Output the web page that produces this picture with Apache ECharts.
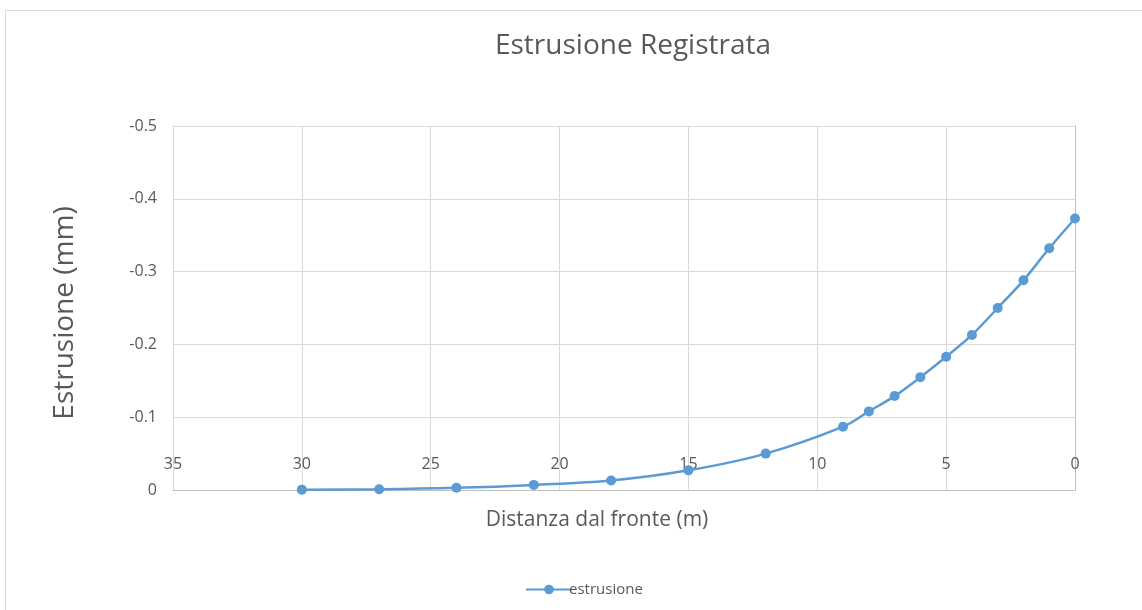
<!DOCTYPE html>
<html>
<head>
<meta charset="utf-8">
<script src="https://cdn.jsdelivr.net/npm/echarts@6/dist/echarts.min.js"></script>
<style>
html,body{margin:0;padding:0;background:#fff;}
#chart{width:1142px;height:610px;}
</style>
</head>
<body>
<div id="chart"></div>
<script>
const titleText = 'Estrusione Registrata';
const xName = 'Distanza dal fronte (m)';
const yName = 'Estrusione (mm)';
const seriesName = 'estrusione';
const distanza = [30, 27, 24, 21, 18, 15, 12, 9, 8, 7, 6, 5, 4, 3, 2, 1, 0];
const estrusione = [-0.0005, -0.001, -0.003, -0.007, -0.013, -0.027, -0.050, -0.087, -0.108, -0.129, -0.155, -0.183, -0.213, -0.250, -0.288, -0.332, -0.373];

const chart = echarts.init(document.getElementById('chart'), null, {renderer: 'canvas'});
const FONT = '"Open Sans", "Noto Sans", sans-serif';
const TXT = '#595959';
chart.setOption({
  animation: false,
  backgroundColor: '#ffffff',
  graphic: [{
    type: 'rect', left: 3, top: 8, z: -1,
    shape: {width: 1200, height: 700},
    style: {fill: 'none', stroke: '#d9d9d9', lineWidth: 1}
  }],
  title: {
    text: titleText, left: 628, top: 27, textAlign: 'center',
    textStyle: {fontFamily: FONT, fontSize: 28, fontWeight: 'normal', color: TXT}
  },
  legend: {
    data: [seriesName], left: 520, top: 577, itemWidth: 46, itemHeight: 12, itemGap: 10,
    textStyle: {fontFamily: FONT, fontSize: 15, color: TXT, padding: [0, 0, 0, -8]}
  },
  grid: {left: 173, right: 67, top: 126, bottom: 120},
  xAxis: {
    type: 'value', min: 0, max: 35, interval: 5, inverse: true,
    name: xName, nameLocation: 'middle', nameGap: 20,
    nameTextStyle: {fontFamily: FONT, fontSize: 21, color: TXT, padding: [0, 54, 0, 0]},
    axisLine: {show: true, onZero: false, lineStyle: {color: '#bfbfbf', width: 1}},
    axisTick: {show: false},
    axisLabel: {inside: true, margin: 18, fontFamily: FONT, fontSize: 16, color: TXT, showMinLabel: true, showMaxLabel: true},
    splitLine: {show: true, lineStyle: {color: '#d9d9d9', width: 1}}
  },
  yAxis: [{
    type: 'value', min: -0.5, max: 0, interval: 0.1, inverse: true, position: 'left',
    name: yName, nameLocation: 'middle', nameGap: 94, nameRotate: 90,
    nameTextStyle: {fontFamily: FONT, fontSize: 28, color: TXT, padding: [0, 10, 0, 0]},
    axisLine: {show: false},
    axisTick: {show: false},
    axisLabel: {margin: 16, fontFamily: FONT, fontSize: 16, color: TXT,
      formatter: v => (Math.abs(v) < 1e-9 ? '0' : (+v.toFixed(1)).toString())},
    splitLine: {show: true, lineStyle: {color: '#d9d9d9', width: 1}}
  }, {
    type: 'value', min: -0.5, max: 0, interval: 0.1, inverse: true, position: 'right',
    axisLine: {show: true, lineStyle: {color: '#bfbfbf', width: 1}},
    axisTick: {show: false}, axisLabel: {show: false}, splitLine: {show: false}
  }],
  series: [{
    name: seriesName, type: 'line', smooth: 0.35,
    data: distanza.map((d, i) => [d, estrusione[i]]),
    symbol: 'circle', symbolSize: 10,
    lineStyle: {color: '#5b9bd5', width: 2.5},
    itemStyle: {color: '#5b9bd5'}
  }]
});
</script>
</body>
</html>
